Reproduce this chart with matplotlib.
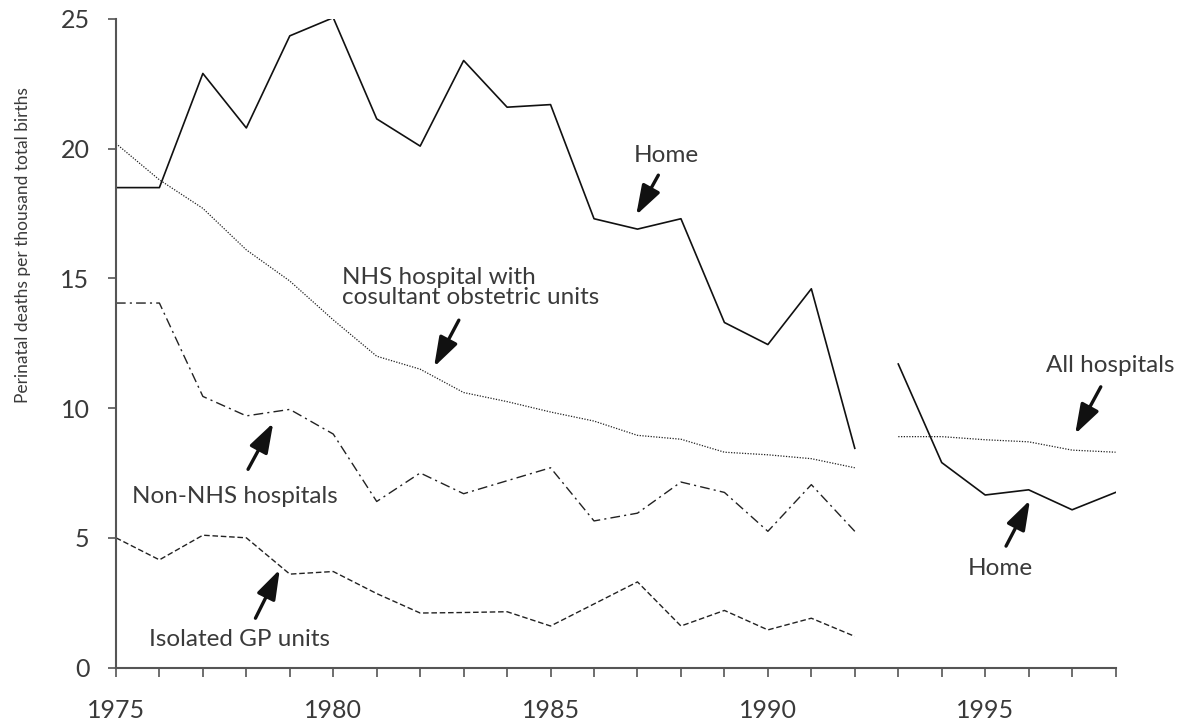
import numpy as np
import matplotlib
matplotlib.use('Agg')
import matplotlib.pyplot as plt
from matplotlib.ticker import MultipleLocator

plt.rcParams['font.family'] = ['Lato', 'DejaVu Sans']

# data
years_a = list(range(1975, 1993))
years_b = list(range(1993, 1999))
home_a = [18.5, 18.5, 22.9, 20.8, 24.35, 25.05, 21.15, 20.1, 23.4, 21.6,
          21.7, 17.3, 16.9, 17.3, 13.3, 12.45, 14.6, 8.45]
nhs_consultant = [20.2, 18.8, 17.7, 16.1, 14.9, 13.4, 12.0, 11.5, 10.6, 10.25,
                  9.85, 9.5, 8.95, 8.8, 8.3, 8.2, 8.05, 7.7]
non_nhs = [14.05, 14.05, 10.45, 9.7, 9.95, 9.0, 6.4, 7.5, 6.7, 7.2,
           7.7, 5.65, 5.95, 7.15, 6.75, 5.25, 7.05, 5.25]
isolated_gp = [5.0, 4.15, 5.1, 5.0, 3.6, 3.7, 2.85, 2.1, 2.12, 2.15,
               1.6, 2.45, 3.3, 1.6, 2.2, 1.45, 1.9, 1.2]
home_b = [11.7, 7.9, 6.65, 6.85, 6.08, 6.75]
all_hosp = [8.9, 8.9, 8.78, 8.7, 8.38, 8.3]

txt = '#3a3a3a'

fig = plt.figure(figsize=(11.83, 7.25), dpi=100)
ax = fig.add_axes([0.098, 0.0793, 0.845, 0.8945])

ax.plot(years_a, home_a, color='#111111', lw=1.2, ls='-')
ax.plot(years_b, home_b, color='#111111', lw=1.2, ls='-')
ax.plot(years_a, nhs_consultant, color='#222222', lw=0.9, ls=(0, (1, 1.2)))
ax.plot(years_b, all_hosp, color='#222222', lw=0.9, ls=(0, (1, 1.2)))
ax.plot(years_a, non_nhs, color='#222222', lw=1.0, ls=(0, (7, 3, 1.5, 3)))
ax.plot(years_a, isolated_gp, color='#222222', lw=1.0, ls=(0, (4, 2)))

ax.set_xlim(1975, 1998)
ax.set_ylim(0, 25)
ax.xaxis.set_major_locator(MultipleLocator(5))
ax.xaxis.set_minor_locator(MultipleLocator(1))
ax.yaxis.set_major_locator(MultipleLocator(5))

for s in ['top', 'right']:
    ax.spines[s].set_visible(False)
for s in ['left', 'bottom']:
    ax.spines[s].set_color('#555555')
    ax.spines[s].set_linewidth(1.5)

ax.tick_params(axis='x', which='both', direction='out', length=6.5, width=1.2,
               color='#555555', labelsize=18, labelcolor=txt, pad=16)
ax.tick_params(axis='y', direction='out', length=6, width=1.2,
               color='#555555', labelsize=18, labelcolor=txt, pad=13)

ax.set_ylabel('Perinatal deaths per thousand total births', fontsize=12.5, color=txt)
ax.yaxis.set_label_coords(-0.085, 0.651)

# annotations
arrow = dict(arrowstyle='-|>,head_length=0.9,head_width=0.3', color='#111111',
             lw=2.4, mutation_scale=20, shrinkA=0, shrinkB=0)
fs = 17.5
ax.text(1987.66, 19.75, 'Home', fontsize=fs, color=txt, ha='center', va='center')
ax.annotate('', xy=(1986.97, 17.44), xytext=(1987.48, 18.98), arrowprops=arrow)

ax.text(1980.21, 14.65, 'NHS hospital with\ncosultant obstetric units', fontsize=fs,
        color=txt, ha='left', va='center', linespacing=0.95)
ax.annotate('', xy=(1982.32, 11.59), xytext=(1982.89, 13.39), arrowprops=arrow)

ax.text(1996.40, 11.63, 'All hospitals', fontsize=fs, color=txt, ha='left', va='center')
ax.annotate('', xy=(1997.07, 9.0), xytext=(1997.66, 10.82), arrowprops=arrow)

ax.text(1975.37, 6.58, 'Non-NHS hospitals', fontsize=fs, color=txt, ha='left', va='center')
ax.annotate('', xy=(1978.62, 9.43), xytext=(1978.04, 7.64), arrowprops=arrow)

ax.text(1975.77, 1.09, 'Isolated GP units', fontsize=fs, color=txt, ha='left', va='center')
ax.annotate('', xy=(1978.77, 3.78), xytext=(1978.21, 1.90), arrowprops=arrow)

ax.text(1994.61, 3.82, 'Home', fontsize=fs, color=txt, ha='left', va='center')
ax.annotate('', xy=(1996.03, 6.45), xytext=(1995.48, 4.68), arrowprops=arrow)

fig.savefig('out.png', dpi=100)
